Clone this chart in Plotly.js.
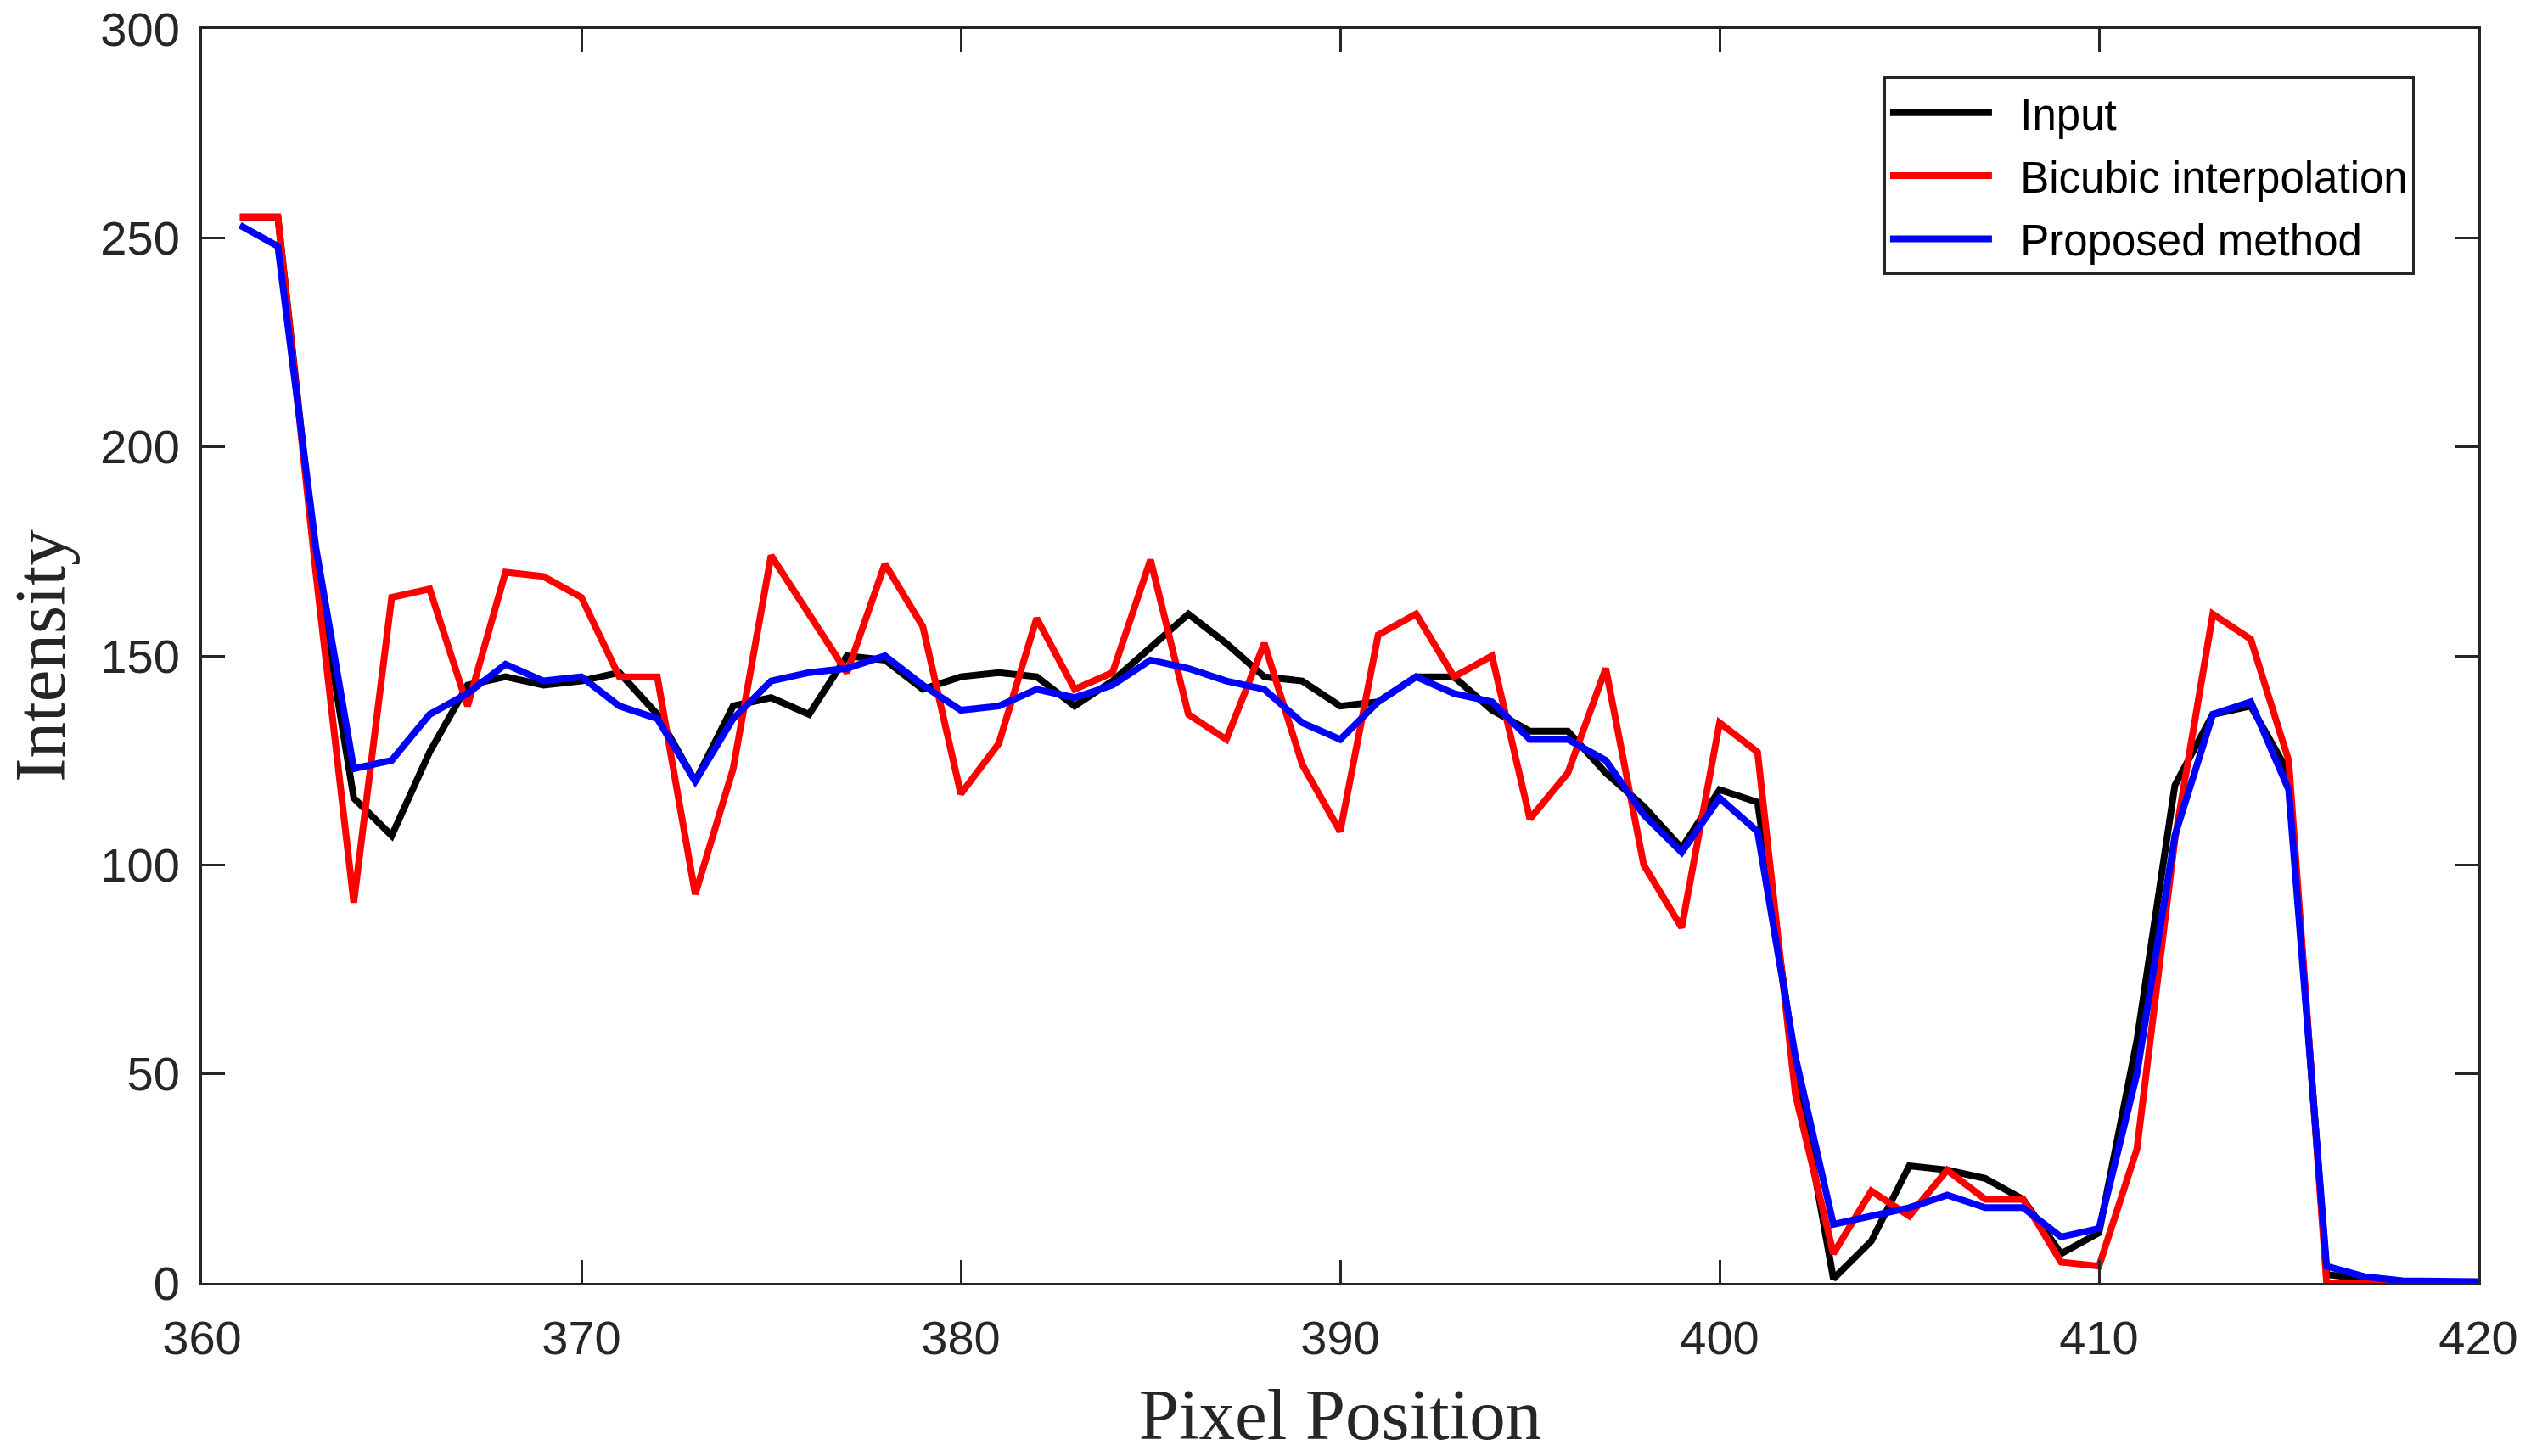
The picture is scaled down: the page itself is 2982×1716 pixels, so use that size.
<!DOCTYPE html>
<html>
<head>
<meta charset="utf-8">
<script src="https://cdn.plot.ly/plotly-3.0.1.min.js"></script>
<style>html,body{margin:0;padding:0;background:#fff;}#chart{width:2982px;height:1716px;}</style>
</head>
<body>
<div id="chart"></div>
<script>
const pixelPosition = [361,362,363,364,365,366,367,368,369,370,371,372,373,374,375,376,377,378,379,380,
  381,382,383,384,385,386,387,388,389,390,391,392,393,394,395,396,397,398,399,400,
  401,402,403,404,405,406,407,408,409,410,411,412,413,414,415,416,417,418,419,420];

const inputValues = [255,255,172,116,107,127,143,145,143,144,146,136,120,138,140,136,150,149,142,145,
  146,145,138,144,152,160,153,145,144,138,139,145,145,137,132,132,122,114,104,118,
  115,52,1,10,28,27,25,20,7,12,58,119,136,138,122,2,1,0,0,0];

const bicubicValues = [255,255,170,91,164,166,138,170,169,164,145,145,93,123,174,160,146,172,157,117,
  129,159,142,146,173,136,130,153,124,108,155,160,145,150,111,122,147,100,85,134,
  127,45,7,22,16,27,20,20,5,4,32,106,160,154,125,0,0,0,0,0];

const proposedValues = [253,248,176,123,125,136,141,148,144,145,138,135,120,135,144,146,147,150,143,137,
  138,142,140,143,149,147,144,142,134,130,139,145,141,139,130,130,125,112,103,116,
  108,54,14,16,18,21,18,18,11,13,50,107,136,139,118,4,1.5,0.5,0.3,0.3];

const seriesNames = ['Input','Bicubic interpolation','Proposed method'];
const seriesColors = ['#000000','#ff0000','#0000ff'];
const xTicks = [360,370,380,390,400,410,420];
const yTicks = [0,50,100,150,200,250,300];

const allSeries = [inputValues, bicubicValues, proposedValues];
const traces = allSeries.map((vals, i) => ({
  x: pixelPosition, y: vals, type: 'scatter', mode: 'lines',
  name: '\u00a0\u00a0' + seriesNames[i], legendgroup: 'g' + i,
  line: {color: seriesColors[i], width: 8}
}));

const axisColor = '#262626';
const layout = {
  width: 2982, height: 1716,
  margin: {l: 238, r: 62, t: 34, b: 204},
  paper_bgcolor: '#ffffff', plot_bgcolor: '#ffffff',
  showlegend: true,
  legend: {
    x: 0.7386, y: 0.962, xanchor: 'left', yanchor: 'top',
    bgcolor: '#ffffff', bordercolor: axisColor, borderwidth: 3,
    font: {family: 'Liberation Sans, Arial, sans-serif', size: 51, color: '#000000'},
    itemwidth: 120, tracegroupgap: 5
  },
  xaxis: {
    range: [360, 420], tickvals: xTicks, ticktext: xTicks.map(String),
    showgrid: false, zeroline: false,
    showline: true, linecolor: axisColor, linewidth: 3, mirror: 'ticks',
    ticks: 'inside', ticklen: 27, tickwidth: 3, tickcolor: axisColor,
    tickfont: {family: 'Liberation Sans, Arial, sans-serif', size: 56, color: axisColor},
    ticklabelstandoff: 14,
    title: {text: 'Pixel Position', font: {family: 'Liberation Serif, Times New Roman, serif', size: 85, color: axisColor}, standoff: 30}
  },
  yaxis: {
    range: [0, 300], tickvals: yTicks, ticktext: yTicks.map(String),
    showgrid: false, zeroline: false,
    showline: true, linecolor: axisColor, linewidth: 3, mirror: 'ticks',
    ticks: 'inside', ticklen: 27, tickwidth: 3, tickcolor: axisColor,
    tickfont: {family: 'Liberation Sans, Arial, sans-serif', size: 56, color: axisColor},
    ticklabelstandoff: 12,
    title: {text: 'Intensity', font: {family: 'Liberation Serif, Times New Roman, serif', size: 85, color: axisColor}, standoff: 30}
  }
};

Plotly.newPlot('chart', traces, layout, {displayModeBar: false, staticPlot: true});
</script>
</body>
</html>
